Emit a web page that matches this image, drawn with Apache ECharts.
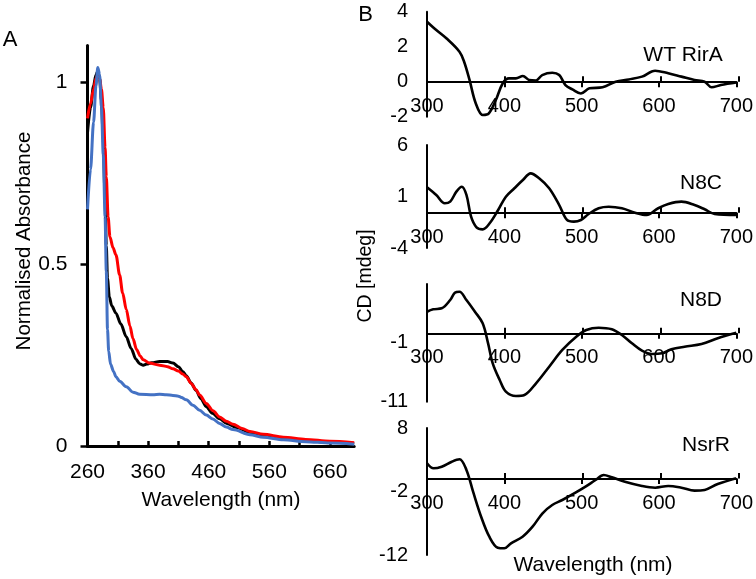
<!DOCTYPE html>
<html><head><meta charset="utf-8">
<script src="https://cdn.jsdelivr.net/npm/echarts@6/dist/echarts.min.js"></script>
<style>html,body{margin:0;padding:0;background:#fff}#c{width:756px;height:579px}</style>
</head><body><div id="c"></div><script>
// ---------- Panel A: normalised absorbance ----------
const absBlackX = [260,265,270,274,277,280,283,286,289,291,293,296,300,307,315,324,332,340,346,352,358,366,379,392,401,410,417,423,431,439,447,456,466,478,490,506,528,550,580,620,660,700];
const absBlackY = [0.86,0.93,0.99,1.02,1.03,1.01,0.95,0.84,0.68,0.55,0.46,0.41,0.385,0.365,0.335,0.30,0.268,0.238,0.226,0.222,0.225,0.229,0.232,0.232,0.228,0.218,0.205,0.193,0.173,0.153,0.130,0.108,0.090,0.075,0.062,0.051,0.038,0.030,0.022,0.015,0.010,0.007];
const absRedX = [260,265,270,274,277,280,283,286,289,291,294,297,302,307,313,318,324,330,335,341,347,352,362,379,392,401,410,417,423,431,439,445,456,467,478,489,500,515,528,550,583,620,660,700];
const absRedY = [0.90,0.94,0.98,1.01,1.02,1.01,0.98,0.93,0.82,0.74,0.63,0.575,0.545,0.525,0.47,0.42,0.375,0.33,0.295,0.265,0.247,0.237,0.228,0.222,0.218,0.212,0.206,0.198,0.19,0.172,0.155,0.14,0.117,0.097,0.08,0.068,0.06,0.048,0.04,0.032,0.024,0.018,0.013,0.009];
const absBlueX = [260,265,270,274,277,280,283,286,289,291,293,295,298,303,307,313,324,335,346,368,379,390,401,410,415,423,434,445,456,467,478,489,500,528,550,583,620,660,700];
const absBlueY = [0.65,0.76,0.89,0.99,1.04,1.02,0.93,0.80,0.63,0.48,0.32,0.26,0.225,0.205,0.19,0.178,0.163,0.148,0.142,0.141,0.142,0.141,0.139,0.137,0.133,0.127,0.112,0.098,0.085,0.074,0.062,0.052,0.045,0.031,0.024,0.017,0.012,0.008,0.005];
const absXTicks = [260,310,360,410,460,510,560,610,660];
const absXLabels = [260,360,460,560,660];
const absYLabels = [0,0.5,1];

// ---------- Panel B: CD spectra ----------
const cdXLabels = [300,400,500,600,700];
const cdXTicks = [400,500,600,700];
const wtX = [300,312,325,342,348,355,363,372,380,389,398,406,415,424,432,441,449,462,471,479,488,499,510,527,544,561,578,595,612,629,646,659,668,680,700];
const wtY = [3.43,2.95,2.48,1.71,1.14,0.10,-1.23,-1.90,-1.81,-1.05,-0.09,0.19,0.19,0.33,0.10,0.07,0.38,0.51,0.38,-0.19,-0.44,-0.67,-0.38,-0.32,0.00,0.13,0.29,0.63,0.48,0.29,0.10,0.00,-0.32,-0.19,-0.05];
const wtYLabels = [-2,0,2,4];
const n8cX = [300,312,323,330,338,345,351,357,364,372,381,392,402,413,424,434,445,458,471,481,490,499,509,522,535,552,569,584,599,612,629,646,659,672,700];
const n8cY = [1.90,1.15,0.34,0.50,1.47,1.95,1.15,-0.96,-1.99,-2.19,-1.60,-0.31,0.98,1.80,2.60,3.25,2.77,1.80,0.17,-1.28,-1.44,-1.28,-0.70,-0.14,0.01,-0.14,-0.57,-0.80,-0.14,0.27,0.50,0.17,-0.24,-0.70,-0.80];
const n8cYLabels = [-4,1,6];
const n8dX = [300,308,319,330,336,342,351,362,372,379,385,394,402,415,426,441,458,475,493,506,522,539,552,565,578,591,604,616,633,655,676,700];
const n8dY = [4.29,4.70,4.87,6.28,7.52,7.69,6.28,4.29,2.32,-1.08,-4.48,-7.31,-9.30,-10.03,-9.86,-7.87,-5.05,-2.21,0.04,1.18,1.57,1.30,0.33,-1.08,-2.33,-2.90,-2.78,-2.10,-1.65,-1.20,-0.23,0.70];
const n8dYLabels = [-11,-1];
const nsrX = [300,308.5,319,332,342,351,359.6,370,380.6,391.5,400,408.6,423.6,436.5,449.4,462,475,492,505,518,528.5,539,556,578,595,612,629,646,659,676,700];
const nsrY = [2.44,1.65,1.91,2.69,3.07,1.39,-2.03,-5.97,-9.12,-10.85,-10.94,-10.16,-9.12,-7.54,-5.43,-4.13,-3.34,-2.19,-1.24,-0.19,0.60,0.24,-0.46,-1.13,-1.40,-1.13,-1.40,-1.87,-1.76,-0.82,0.10];
const nsrYLabels = [-12,-2,8];

const FONT = '"Liberation Sans", Arial, Helvetica, sans-serif';
const pairs = (xs, ys) => xs.map((x, i) => [x, ys[i]]);

const chart = echarts.init(document.getElementById('c'), null, {renderer: 'canvas'});

// CD sub-panels: grid geometry, y range, axis line offset from grid bottom
const cdPanels = [
  {top: 11.7, height: 105, min: -2, max: 4, labels: wtYLabels, x: wtX, y: wtY, lineOffset: -35, name: 'WT RirA', nx: 683, ny: 55},
  {top: 145, height: 103, min: -4, max: 6, labels: n8cYLabels, x: n8cX, y: n8cY, lineOffset: -35.3, name: 'N8C', nx: 701, ny: 183},
  {top: 284, height: 117.7, min: -11, max: 9, labels: n8dYLabels, x: n8dX, y: n8dY, lineOffset: -68.4, name: 'N8D', nx: 701, ny: 300},
  {top: 428, height: 127, min: -12, max: 8, labels: nsrYLabels, x: nsrX, y: nsrY, lineOffset: -76.5, name: 'NsrR', nx: 706, ny: 445}
];

const grids = [{left: 87.5, top: 45.6, width: 266.7, height: 400.4}];
const xAxes = [{
  gridIndex: 0, type: 'value', min: 260, max: 700,
  axisLine: {show: true, onZero: false, lineStyle: {color: '#000', width: 3}},
  axisTick: {show: true, inside: true, length: 5, customValues: absXTicks, lineStyle: {color: '#000', width: 2.5}},
  axisLabel: {show: true, margin: 16, customValues: absXLabels, color: '#000', fontSize: 21, fontFamily: FONT},
  splitLine: {show: false}
}];
const yAxes = [{
  gridIndex: 0, type: 'value', min: 0, max: 1.1,
  axisLine: {show: true, onZero: false, lineStyle: {color: '#000', width: 3}},
  axisTick: {show: true, inside: false, length: 7, customValues: absYLabels, lineStyle: {color: '#000', width: 2.5}},
  axisLabel: {show: true, margin: 20, customValues: absYLabels, color: '#000', fontSize: 21, fontFamily: FONT},
  splitLine: {show: false}
}];
const series = [
  {type: 'line', xAxisIndex: 0, yAxisIndex: 0, data: pairs(absBlackX, absBlackY), showSymbol: false, smooth: 0.3, smoothMonotone: 'x', lineStyle: {color: '#000000', width: 3}, z: 2},
  {type: 'line', xAxisIndex: 0, yAxisIndex: 0, data: pairs(absRedX, absRedY), showSymbol: false, smooth: 0.3, smoothMonotone: 'x', lineStyle: {color: '#ff0000', width: 3}, z: 3},
  {type: 'line', xAxisIndex: 0, yAxisIndex: 0, data: pairs(absBlueX, absBlueY), showSymbol: false, smooth: 0.3, smoothMonotone: 'x', lineStyle: {color: '#4472c4', width: 3}, z: 4}
];
const graphics = [
  {type: 'text', x: 10, y: 40, style: {text: 'A', font: '22px ' + FONT, fill: '#000', textAlign: 'center', textVerticalAlign: 'middle'}},
  {type: 'text', x: 365.5, y: 14.5, style: {text: 'B', font: '22px ' + FONT, fill: '#000', textAlign: 'center', textVerticalAlign: 'middle'}},
  {type: 'text', x: 24, y: 241, rotation: Math.PI / 2, style: {text: 'Normalised Absorbance', font: '20.5px ' + FONT, fill: '#000', textAlign: 'center', textVerticalAlign: 'middle'}},
  {type: 'text', x: 221, y: 500, style: {text: 'Wavelength (nm)', font: '21px ' + FONT, fill: '#000', textAlign: 'center', textVerticalAlign: 'middle'}},
  {type: 'text', x: 365.5, y: 276, rotation: Math.PI / 2, style: {text: 'CD [mdeg]', font: '19.5px ' + FONT, fill: '#000', textAlign: 'center', textVerticalAlign: 'middle'}},
  {type: 'text', x: 593, y: 565, style: {text: 'Wavelength (nm)', font: '21px ' + FONT, fill: '#000', textAlign: 'center', textVerticalAlign: 'middle'}}
];

cdPanels.forEach((p) => {
  // main grid: axis line, outer ticks, labels, curve
  const g = grids.length;
  const geom = {left: 427, top: p.top, width: 311.5, height: p.height};
  grids.push(Object.assign({}, geom));
  xAxes.push({
    gridIndex: g, type: 'value', min: 300, max: 700, position: 'bottom', offset: p.lineOffset,
    axisLine: {show: true, onZero: false, lineStyle: {color: '#000', width: 2}},
    axisTick: {show: true, inside: false, length: 5.5, customValues: cdXTicks, lineStyle: {color: '#000', width: 2}},
    axisLabel: {show: true, margin: 14.5, customValues: cdXLabels, color: '#000', fontSize: 20, fontFamily: FONT},
    splitLine: {show: false}
  });
  yAxes.push({
    gridIndex: g, type: 'value', min: p.min, max: p.max,
    axisLine: {show: true, onZero: false, lineStyle: {color: '#000', width: 2}},
    axisTick: {show: false},
    axisLabel: {show: true, margin: 19, customValues: p.labels, color: '#000', fontSize: 20, fontFamily: FONT},
    splitLine: {show: false}
  });
  series.push({
    type: 'line', xAxisIndex: xAxes.length - 1, yAxisIndex: yAxes.length - 1, data: pairs(p.x, p.y),
    showSymbol: false, smooth: 0.35, lineStyle: {color: '#000', width: 2.6}, z: 3
  });
  // overlay grid: inner half of the crossing ticks
  const g2 = grids.length;
  grids.push(Object.assign({}, geom));
  xAxes.push({
    gridIndex: g2, type: 'value', min: 300, max: 700, position: 'bottom', offset: p.lineOffset,
    axisLine: {show: false, onZero: false},
    axisTick: {show: true, inside: true, length: 5.5, customValues: cdXTicks, lineStyle: {color: '#000', width: 2}},
    axisLabel: {show: false},
    splitLine: {show: false}
  });
  yAxes.push({gridIndex: g2, type: 'value', min: p.min, max: p.max, show: false});
  graphics.push({type: 'text', x: p.nx, y: p.ny, style: {text: p.name, font: '21px ' + FONT, fill: '#000', textAlign: 'center', textVerticalAlign: 'middle'}});
});

chart.setOption({
  animation: false,
  backgroundColor: '#ffffff',
  grid: grids,
  xAxis: xAxes,
  yAxis: yAxes,
  series: series,
  graphic: graphics
});
</script></body></html>
